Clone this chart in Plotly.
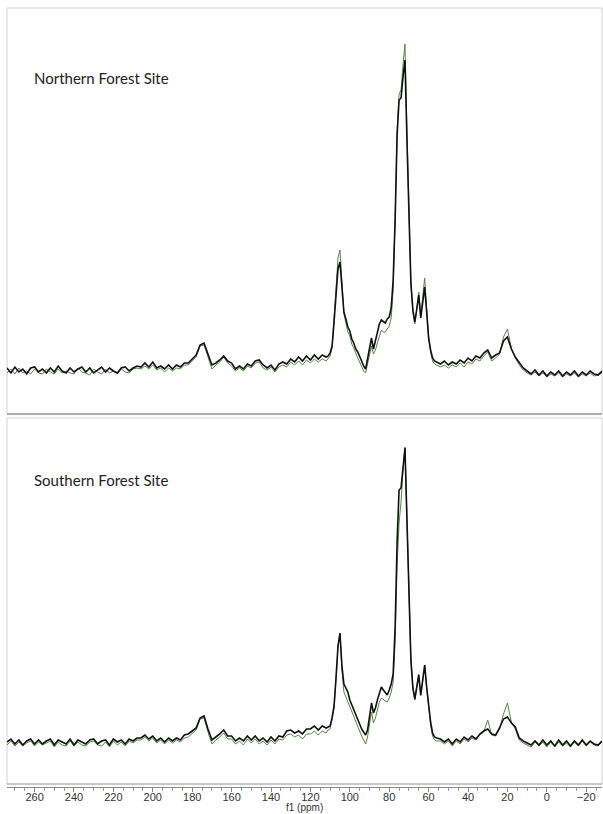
import plotly.graph_objs as go
from plotly.subplots import make_subplots

# chemical shift grid (ppm), coarse on the baseline, finer across the carbohydrate region
ppm = [274, 272, 270, 268, 266, 264, 262, 260, 258, 256, 254, 252, 250, 248, 246, 244, 242,
       240, 238, 236, 234, 232, 230, 228, 226, 224, 222, 220, 218, 216, 214, 212, 210, 208,
       206, 204, 202, 200, 198, 196, 194, 192, 190, 188, 186, 184, 182, 180, 178, 176, 174,
       172, 170, 168, 166, 164, 162, 160, 158, 156, 154, 152, 150, 148, 146, 144, 142, 140,
       138, 136, 134, 132, 130, 128, 126, 124, 122, 120, 118, 116, 114, 112,
       111, 110, 109, 108, 107, 106, 105, 104, 103, 102, 101, 100, 99, 98, 97, 96, 95, 94,
       93, 92, 91, 90, 89, 88, 87, 86, 85, 84, 83, 82, 81, 80, 79, 78, 77, 76, 75, 74, 73,
       72, 71, 70, 69, 68, 67, 66, 65, 64, 63, 62, 61, 60, 59, 58, 57, 56,
       54, 52, 50, 48, 46, 44, 42, 40, 38, 36, 34, 32, 30, 28, 26, 24, 22, 20, 18, 16, 14,
       12, 10, 8, 6, 4, 2, 0, -2, -4, -6, -8, -10, -12, -14, -16, -18, -20, -22, -24, -26, -28]

# Northern site
north_black = [2, -3, 3, -2, 1, -4, 2, 3, -2, 1, -3, 2, -2, 4, -1, -3, 2, -2, 1, 3, -2, 2, -3, 0,
               3, -2, 2, -1, -3, 2, 3, -1, 2, 4,
               3, 7, 3, 8, 2, 4, 1, 5, 1, 5, 3, 7, 7, 11, 15, 25, 27, 16, 5, 7,
               10, 14, 9, 7, 1, 4, 1, 6, 4, 9, 10, 5, 2, 5, 0, 6, 8, 6, 11, 8,
               13, 9, 14, 10, 15, 11, 15, 13,
               14, 17, 24, 48, 80, 101, 108, 84, 58, 51, 43, 39, 31, 27, 21, 18, 14, 9, 4, 1,
               11, 22, 32, 21, 29, 36, 46, 50, 48, 47, 51, 53, 62, 90, 150, 235, 270, 272, 293, 310,
               230, 160, 87, 60, 48, 61, 75, 52, 70, 83, 58, 32, 20, 12, 9, 8,
               6, 9, 5, 8, 6, 10, 7, 12, 9, 14, 12, 17, 20, 12, 15, 17, 29, 33, 21, 13,
               7, 2, -1, -4, 0, -5, -1, -6, -2, -5, -1, -6, -2, -5, -1, -6, -2, -5, -1, -4, -5, -1]
north_green = [-3, 1, -4, 2, -3, -1, -4, 1, -3, -4, 1, -2, -4, 1, -3, -1, -3, -4, 2, -2, -3, -5, 1, -2,
               -4, 1, -3, -1, -4, 1, -2, -3, 1, 2,
               1, 4, 1, 5, 0, 2, -2, 2, -1, 2, 1, 5, 5, 9, 13, 24, 25, 13, 1, 5,
               8, 13, 7, 4, -1, 2, -1, 4, 2, 7, 8, 2, 0, 3, -2, 3, 5, 3, 8, 5,
               9, 5, 10, 7, 11, 8, 11, 9,
               11, 14, 22, 50, 86, 112, 120, 90, 57, 47, 38, 34, 26, 22, 16, 12, 8, 3, -1, -3,
               6, 15, 24, 16, 20, 27, 35, 40, 38, 38, 41, 44, 52, 80, 152, 238, 276, 280, 305, 326,
               240, 165, 88, 58, 46, 62, 78, 54, 74, 92, 62, 33, 18, 9, 6, 5,
               3, 5, 2, 5, 3, 7, 3, 8, 6, 11, 9, 14, 18, 9, 12, 16, 33, 41, 22, 12,
               5, 0, -3, -5, -2, -6, -3, -7, -4, -6, -3, -7, -4, -6, -3, -7, -4, -6, -3, -6, -5, -3]

# Southern site
south_black = [0, 3, -2, 2, -3, 1, 3, -2, 2, -2, 1, 3, -3, 2, 0, -2, 3, -3, 2, 0, -2, 2, 3, -2,
               1, 2, -3, 3, 0, 2, -2, 3, 1, 4,
               4, 7, 3, 6, 1, 4, 0, 4, 1, 4, 2, 7, 8, 11, 14, 24, 26, 13, 2, 5,
               8, 12, 6, 6, 1, 4, 1, 6, 2, 6, 1, 4, 0, 5, 1, 6, 5, 11, 12, 9,
               11, 8, 13, 13, 16, 12, 16, 14,
               15, 16, 24, 36, 64, 96, 109, 76, 58, 54, 50, 42, 37, 31, 27, 22, 18, 13, 10, 7,
               12, 24, 39, 29, 34, 42, 50, 55, 52, 50, 47, 52, 58, 68, 115, 200, 252, 254, 275, 294,
               222, 150, 82, 54, 43, 55, 67, 47, 62, 77, 55, 35, 20, 9, 5, 4,
               3, 0, 3, -2, 3, 0, 5, 2, 6, 3, 8, 11, 13, 8, 7, 14, 23, 25, 19, 15,
               4, 1, -1, -3, 1, -3, 2, -3, 1, -4, 2, -3, 1, -4, 1, -3, 2, -3, 1, -2, -3, 1]
south_green = [-3, 1, -4, 0, -4, -1, 1, -4, 0, -3, -1, 1, -5, 0, -3, -4, 1, -4, 0, -3, -4, 0, 1, -3,
               -4, 0, -5, 1, -3, 0, -4, 1, -1, 2,
               2, 5, 1, 4, -1, 2, -2, 2, -1, 2, 0, 4, 5, 9, 12, 23, 24, 10, -2, 2,
               5, 9, 3, 3, -2, 1, -3, 3, -1, 3, -2, 1, -3, 2, -2, 3, 2, 7, 8, 5,
               7, 3, 8, 8, 11, 7, 11, 9,
               12, 13, 22, 34, 63, 95, 108, 72, 50, 45, 41, 34, 29, 24, 20, 15, 11, 6, 2, -2,
               5, 16, 30, 19, 24, 32, 40, 44, 42, 41, 40, 44, 50, 60, 100, 175, 219, 240, 272, 295,
               224, 152, 84, 55, 42, 56, 68, 46, 61, 76, 54, 33, 17, 6, 2, 1,
               1, -2, 1, -4, 1, -2, 3, 0, 4, 2, 7, 10, 22, 7, 6, 13, 28, 39, 20, 13,
               2, -1, -3, -5, 0, -4, 0, -5, 0, -5, 0, -4, -1, -5, 0, -4, 1, -4, 0, -3, -4, 0]

site_labels = ["Northern Forest Site", "Southern Forest Site"]

GREEN = "rgb(84,134,72)"
BLACK = "#111111"
H = 814
PLOT_TOP, PLOT_BOT = 8, 787


def py(pix):
    # pixel row -> paper coordinate
    return (PLOT_BOT - pix) / (PLOT_BOT - PLOT_TOP)


fig = make_subplots(rows=2, cols=1, shared_xaxes=True, vertical_spacing=0.005)

fig.add_trace(go.Scatter(x=ppm, y=north_green, mode="lines", line={"color": GREEN, "width": 1}),
              row=1, col=1)
fig.add_trace(go.Scatter(x=ppm, y=north_black, mode="lines", line={"color": BLACK, "width": 1.6}),
              row=1, col=1)
fig.add_trace(go.Scatter(x=ppm, y=south_green, mode="lines", line={"color": GREEN, "width": 1}),
              row=2, col=1)
fig.add_trace(go.Scatter(x=ppm, y=south_black, mode="lines", line={"color": BLACK, "width": 1.6}),
              row=2, col=1)

fig.update_layout(
    width=603, height=H,
    margin=dict(l=7, r=1, t=PLOT_TOP, b=H - PLOT_BOT, autoexpand=False),
    paper_bgcolor="white", plot_bgcolor="white",
    showlegend=False,
    yaxis=dict(domain=[py(414), 1], range=[-44, 362], visible=False),
    yaxis2=dict(domain=[0, py(418)], range=[-45, 324], visible=False),
    xaxis=dict(range=[274, -28], visible=False),
    xaxis2=dict(range=[274, -28], showline=True, linecolor="#8a8a8a", linewidth=1,
                showgrid=False, zeroline=False, automargin=False,
                ticks="outside", ticklen=4, tickcolor="#8a8a8a", tick0=0, dtick=20,
                ticklabelstandoff=-4,
                minor=dict(ticks="outside", ticklen=3, tickcolor="#9a9a9a", dtick=5, tick0=0),
                tickfont=dict(family="Liberation Sans, Arial", size=11, color="#333")),
)

# panel frames
frame = dict(type="rect", xref="paper", yref="paper", x0=0, x1=1, layer="below",
             line=dict(color="#d2d2d2", width=1))
fig.add_shape(**frame, y0=py(414), y1=1)
fig.add_shape(**frame, y0=py(784), y1=py(418))
fig.add_shape(type="line", xref="paper", yref="paper", x0=0, x1=1, y0=py(414), y1=py(414),
              line=dict(color="#9a9a9a", width=1.5))
fig.add_shape(type="line", xref="paper", yref="paper", x0=0, x1=1, y0=py(784), y1=py(784),
              line=dict(color="#a8a8a8", width=1))

for lab, row_pix in zip(site_labels, [78, 480]):
    fig.add_annotation(text=lab, xref="paper", yref="paper", x=(32 - 7) / 595, y=py(row_pix),
                       xanchor="left", yanchor="middle", showarrow=False,
                       font=dict(family="Lato", size=15, color="#222"))

fig.add_annotation(text="f1 (ppm)", xref="paper", yref="paper", x=0.5, y=py(807),
                   xanchor="center", yanchor="middle", showarrow=False,
                   font=dict(family="Liberation Sans, Arial", size=10, color="#333"))

# the page body has a default 8px margin; drop it so the figure sits at the window corner
fig.write_html("out.html", config={"displayModeBar": False},
               post_script="document.body.style.margin='0';")
